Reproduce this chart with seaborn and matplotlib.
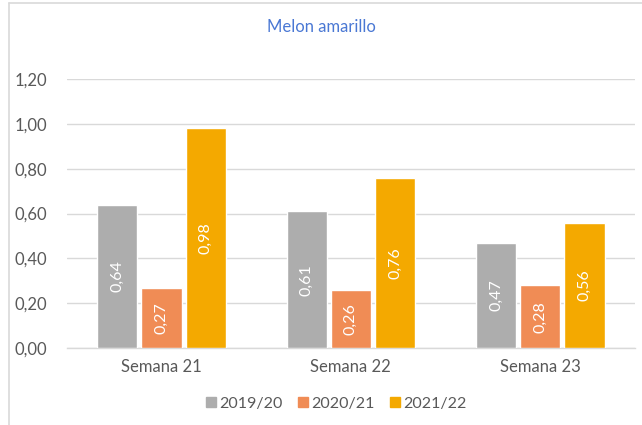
import pandas as pd
import matplotlib.pyplot as plt
import seaborn as sns
from matplotlib.ticker import FuncFormatter
from matplotlib.lines import Line2D

# data
semanas = ['Semana 21', 'Semana 22', 'Semana 23']
temporadas = ['2019/20', '2020/21', '2021/22']
v_2019 = [0.64, 0.61, 0.47]
v_2020 = [0.27, 0.26, 0.28]
v_2021 = [0.98, 0.76, 0.56]
colores = ['#ADADAD', '#F08C55', '#F4A900']

df = pd.DataFrame({
    'semana': semanas * 3,
    'temporada': [t for t in temporadas for _ in semanas],
    'valor': v_2019 + v_2020 + v_2021,
})

sns.set_style('white')
plt.rcParams['font.family'] = ['Lato', 'DejaVu Sans']

fig = plt.figure(figsize=(6.42, 4.25), dpi=100)
ax = fig.add_axes([0.104, 0.181, 0.885, 0.633])

sns.barplot(data=df, x='semana', y='valor', hue='temporada', palette=colores,
            saturation=1, width=0.70, gap=0.09, ax=ax, legend=False, zorder=3)

coma = lambda v: f"{v:.2f}".replace('.', ',')
for c in ax.containers:
    ax.bar_label(c, labels=[coma(v) for v in c.datavalues], label_type='center',
                 rotation=90, color='white', fontsize=11.5)

ax.set_ylim(0, 1.2)
ax.set_yticks([0, 0.2, 0.4, 0.6, 0.8, 1.0, 1.2])
ax.yaxis.set_major_formatter(FuncFormatter(lambda v, p: coma(v)))
ax.grid(axis='y', color='#D9D9D9', linewidth=1, zorder=0)
ax.set_xlabel('')
ax.set_ylabel('')
for s in ['top', 'right', 'left']:
    ax.spines[s].set_visible(False)
ax.spines['bottom'].set_color('#D9D9D9')
ax.spines['bottom'].set_linewidth(1)
ax.tick_params(axis='both', length=0, labelsize=12, labelcolor='#595959')
ax.tick_params(axis='y', pad=14)
ax.tick_params(axis='x', pad=8)
ax.set_xlim(-0.5, 2.5)

fig.text(0.5, 0.936, 'Melon amarillo', ha='center', va='center',
         color='#4A78D4', fontsize=12)

handles = [Line2D([], [], marker='s', linestyle='', markersize=7,
                  markerfacecolor=c, markeredgecolor=c) for c in colores]
fig.legend(handles, temporadas, loc='center', bbox_to_anchor=(0.523, 0.05),
           ncol=3, frameon=False, fontsize=11.5, labelcolor='#595959',
           handletextpad=0.1, columnspacing=0.9, handlelength=0.8)

# chart frame (left and top edge)
fig.add_artist(Line2D([0.014, 0.014], [0.0, 0.992], color='#D9D9D9', lw=1.2))
fig.add_artist(Line2D([0.014, 1.0], [0.992, 0.992], color='#D9D9D9', lw=1.2))

plt.savefig('out.png', dpi=100)
